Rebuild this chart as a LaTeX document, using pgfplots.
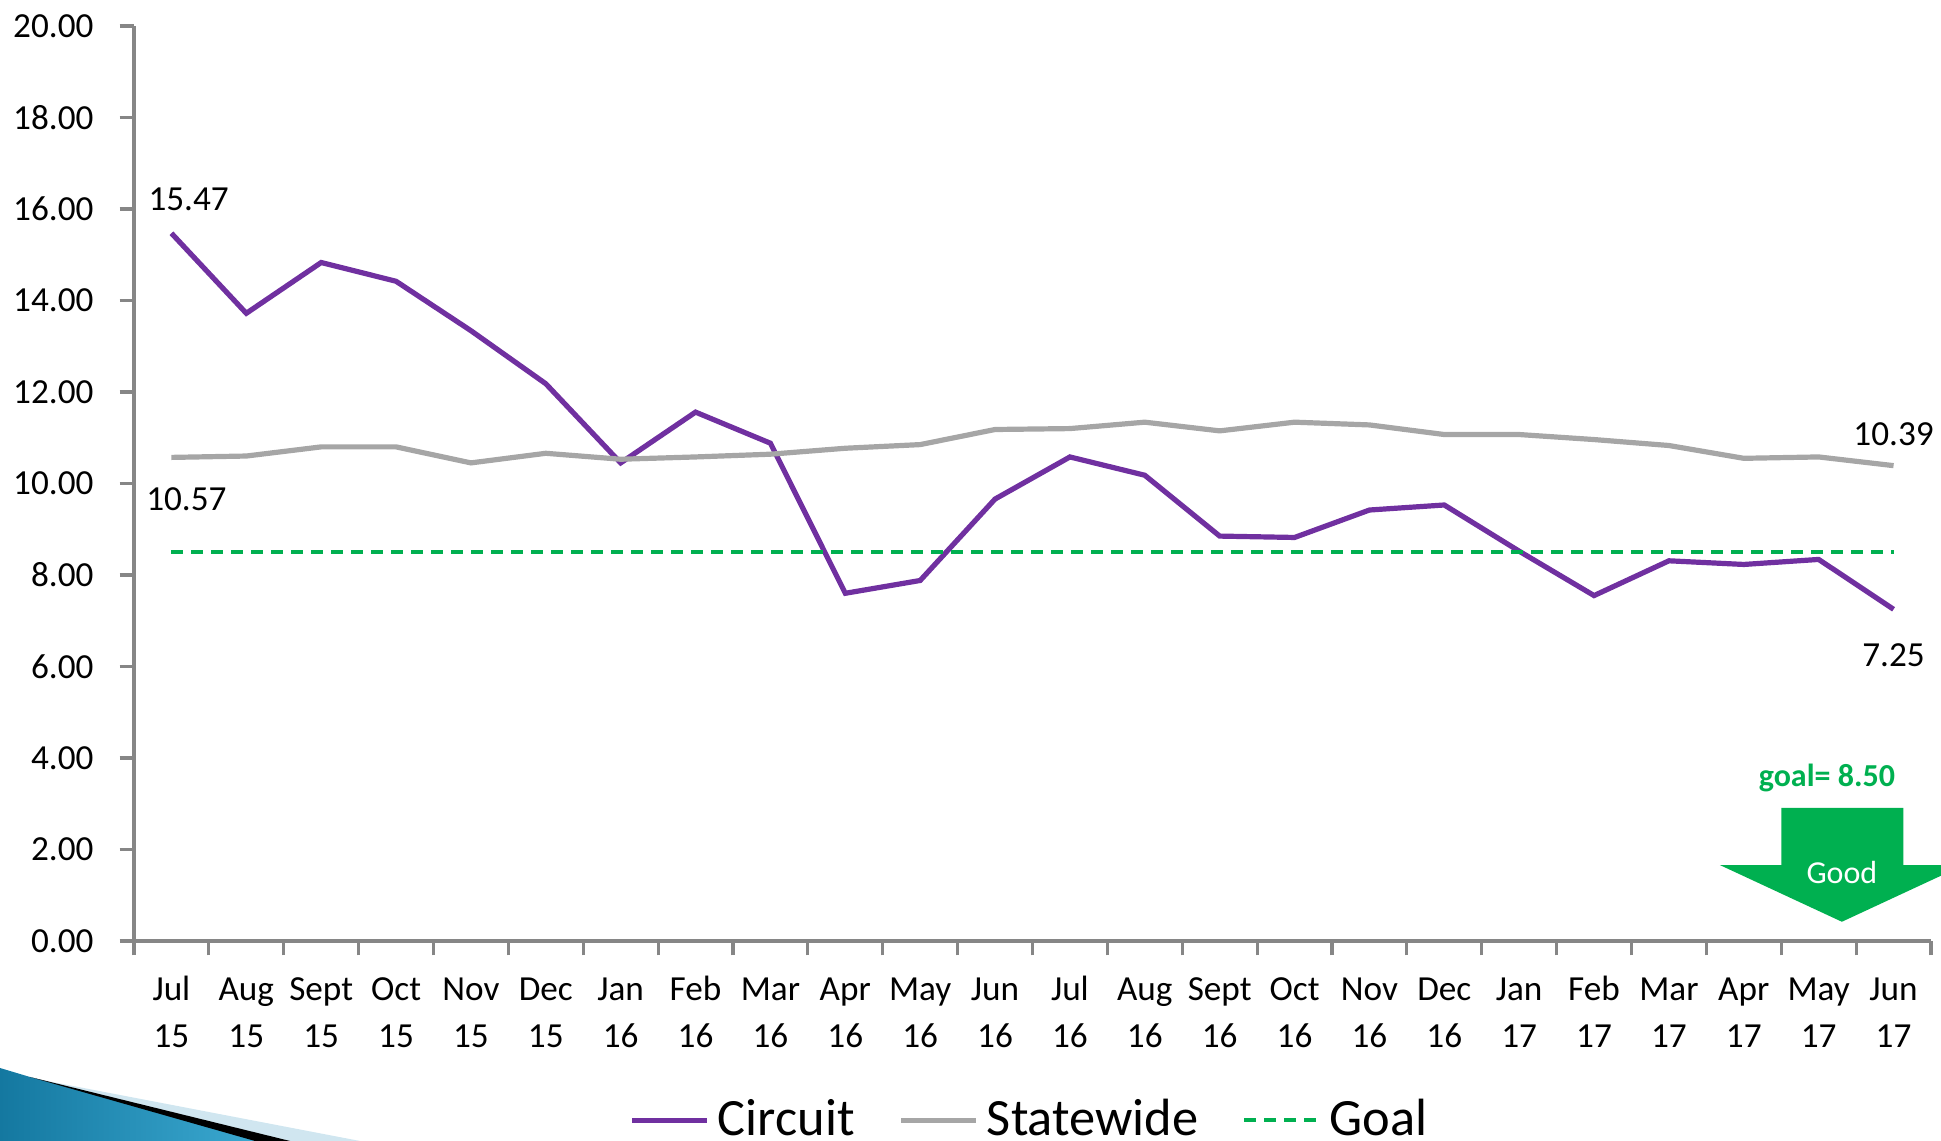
\documentclass[border=0pt]{standalone}
\usepackage{pgfplots}
\pgfplotsset{compat=1.18}
\usepackage{fontspec}
\setmainfont{Carlito}
\definecolor{circuit}{HTML}{7030A0}
\definecolor{state}{HTML}{A6A6A6}
\definecolor{goalgreen}{HTML}{00B050}
\definecolor{axisgray}{HTML}{868686}

\begin{document}
\begin{tikzpicture}
% slide decoration, bottom left
\fill[fill={rgb,255:red,208;green,230;blue,240}] (-33.5pt,-32.75pt) -- (56.5pt,-50pt) -- (-33.5pt,-50pt) -- cycle;
\shade[left color={rgb,255:red,20;green,120;blue,160}, right color={rgb,255:red,60;green,170;blue,210}]
  (-33.5pt,-31.75pt) -- (-26pt,-34pt) -- (32.75pt,-50pt) -- (-33.5pt,-50pt) -- cycle;
\fill[black] (-26pt,-34pt) -- (39pt,-50pt) -- (30.25pt,-50pt) -- cycle;

\begin{axis}[
    at={(0,0)}, anchor=south west,
    scale only axis,
    width=449.25pt, height=228.75pt,
    xmin=-0.5, xmax=23.5,
    ymin=0, ymax=20,
    axis x line*=bottom,
    axis y line*=left,
    axis line style={axisgray, line width=0.8pt},
    tick align=outside,
    tick style={axisgray, line width=0.8pt},
    major tick length=3.6pt,
    minor tick length=3.6pt,
    xtick={0,...,23},
    every major x tick/.append style={draw=none},
    minor xtick={-0.5,0.5,...,23.5},
    xticklabels={{Jul\strut\\15\strut},{Aug\strut\\15\strut},{Sept\strut\\15\strut},{Oct\strut\\15\strut},{Nov\strut\\15\strut},{Dec\strut\\15\strut},
                 {Jan\strut\\16\strut},{Feb\strut\\16\strut},{Mar\strut\\16\strut},{Apr\strut\\16\strut},{May\strut\\16\strut},{Jun\strut\\16\strut},
                 {Jul\strut\\16\strut},{Aug\strut\\16\strut},{Sept\strut\\16\strut},{Oct\strut\\16\strut},{Nov\strut\\16\strut},{Dec\strut\\16\strut},
                 {Jan\strut\\17\strut},{Feb\strut\\17\strut},{Mar\strut\\17\strut},{Apr\strut\\17\strut},{May\strut\\17\strut},{Jun\strut\\17\strut}},
    xticklabel style={align=center, font=\fontsize{8.8}{11.75}\selectfont, yshift=0.6pt},
    ytick={0,2,...,20},
    yticklabel style={font=\fontsize{8.8}{10.5}\selectfont, xshift=-3pt},
    /pgf/number format/.cd, fixed, fixed zerofill, precision=2, assume math mode=true,
    /pgfplots/.cd,
    clip=false,
    legend image code/.code={\draw[#1] (0cm,0cm) -- (0.66cm,0cm);},
    legend style={at={(0.5,-0.196)}, anchor=center, draw=none, fill=none,
        legend columns=3, font=\fontsize{13.1}{15}\selectfont,
        /tikz/every even column/.append style={column sep=9pt}},
]

\addplot[circuit, line width=1.3pt, mark=none] coordinates {
(0,15.47) (1,13.72) (2,14.83) (3,14.42) (4,13.34) (5,12.18)
(6,10.45) (7,11.56) (8,10.88) (9,7.60) (10,7.88) (11,9.66)
(12,10.58) (13,10.18) (14,8.85) (15,8.82) (16,9.42) (17,9.53)
(18,8.52) (19,7.55) (20,8.31) (21,8.23) (22,8.34) (23,7.25)
};
\addlegendentry{Circuit}

\addplot[state, line width=1.3pt, mark=none] coordinates {
(0,10.57) (1,10.60) (2,10.80) (3,10.80) (4,10.45) (5,10.66)
(6,10.53) (7,10.58) (8,10.64) (9,10.77) (10,10.85) (11,11.18)
(12,11.20) (13,11.34) (14,11.15) (15,11.34) (16,11.28) (17,11.07)
(18,11.07) (19,10.96) (20,10.83) (21,10.55) (22,10.58) (23,10.39)
};
\addlegendentry{Statewide}

\addplot[goalgreen, line width=1pt, dash pattern=on 3pt off 2pt, mark=none] coordinates {
(0,8.5) (23,8.5)
};
\addlegendentry{Goal}

% x axis line runs a little past the y axis
\draw[axisgray, line width=0.8pt] (axis cs:-0.5,0) -- ++(-3.6pt,0);

% data labels
\node[font=\fontsize{8.8}{10.5}\selectfont] at (axis cs:0.23,16.22) {15.47};
\node[font=\fontsize{8.8}{10.5}\selectfont] at (axis cs:0.2,9.65) {10.57};
\node[font=\fontsize{8.8}{10.5}\selectfont] at (axis cs:23,11.07) {10.39};
\node[font=\fontsize{8.8}{10.5}\selectfont] at (axis cs:23,6.25) {7.25};

% goal arrow
\fill[goalgreen] (axis cs:21.5,2.91) -- (axis cs:23.13,2.91) -- (axis cs:23.13,1.66)
  -- (axis cs:23.94,1.66) -- (axis cs:22.31,0.42) -- (axis cs:20.68,1.66)
  -- (axis cs:21.5,1.66) -- cycle;
\node[goalgreen, font=\fontsize{8}{9.6}\selectfont\bfseries] at (axis cs:22.11,3.56) {goal= 8.50};
\node[white, font=\fontsize{8}{9.6}\selectfont] at (axis cs:22.31,1.49) {Good};
\end{axis}
\pgfresetboundingbox
\path[use as bounding box] (-33.5pt,-50pt) rectangle (451.75pt,235.25pt);
\end{tikzpicture}
\end{document}
